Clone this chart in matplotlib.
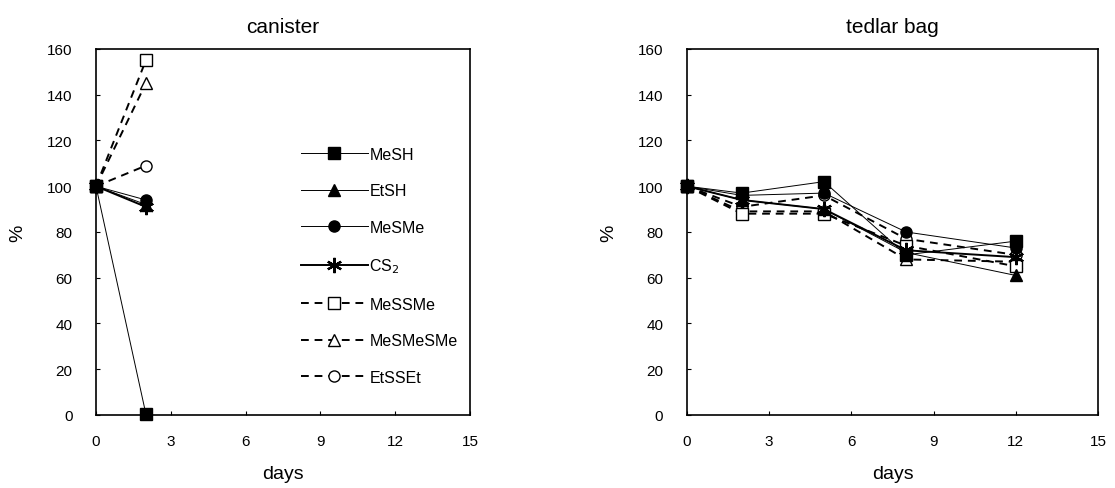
import matplotlib.pyplot as plt

plt.rcParams['font.family'] = ['Liberation Sans', 'DejaVu Sans']

# compounds and styles
names = ['MeSH', 'EtSH', 'MeSMe', 'CS$_2$', 'MeSSMe', 'MeSMeSMe', 'EtSSEt']

# canister: day 0 and day 2
can_days = [0, 2]
can_vals = [
    [100, 0.5],   # MeSH
    [100, 92],    # EtSH
    [100, 94],    # MeSMe
    [100, 91],    # CS2
    [100, 155],   # MeSSMe
    [100, 145],   # MeSMeSMe
    [100, 109],   # EtSSEt
]

# tedlar bag
bag_days = [0, 2, 5, 8, 12]
bag_vals = [
    [100, 97, 102, 70, 76],   # MeSH
    [100, 94, 90, 71, 61],    # EtSH
    [100, 96, 97, 80, 73],    # MeSMe
    [100, 94, 90, 72, 69],    # CS2
    [100, 88, 88, 74, 65],    # MeSSMe
    [100, 89, 89, 68, 67],    # MeSMeSMe
    [100, 91, 96, 77, 70],    # EtSSEt
]

styles = [
    dict(marker='s', mfc='black', ls='-', lw=0.7, ms=8),
    dict(marker='^', mfc='black', ls='-', lw=0.7, ms=8),
    dict(marker='o', mfc='black', ls='-', lw=0.7, ms=8),
    dict(marker=(6, 2, 0), mfc='black', ls='-', lw=1.4, mew=1.6, ms=11),
    dict(marker='s', mfc='white', ls=(0, (4, 3)), lw=1.4, ms=8),
    dict(marker='^', mfc='white', ls=(0, (4, 3)), lw=1.4, ms=8),
    dict(marker='o', mfc='white', ls=(0, (4, 3)), lw=1.4, ms=8),
]

fig = plt.figure(figsize=(11.15, 4.89), dpi=100)
ax1 = fig.add_axes([0.0861, 0.1493, 0.3354, 0.7485])
ax2 = fig.add_axes([0.6161, 0.1493, 0.3686, 0.7485])

for i, (name, vals, st) in enumerate(zip(names, can_vals, styles)):
    ax1.plot(can_days, vals, color='black', mec='black', label=name,
             zorder=10 - i, clip_on=False, **st)

for i, (vals, st) in enumerate(zip(bag_vals, styles)):
    ax2.plot(bag_days, vals, color='black', mec='black',
             zorder=10 - i, clip_on=False, **st)

for ax, title in [(ax1, 'canister'), (ax2, 'tedlar bag')]:
    ax.set_xlim(0, 15)
    ax.set_ylim(0, 160)
    ax.set_xticks([0, 3, 6, 9, 12, 15])
    ax.set_yticks(range(0, 161, 20))
    ax.tick_params(direction='in', length=3, labelsize=11)
    ax.tick_params(axis='x', pad=14)
    ax.tick_params(axis='y', pad=17)
    ax.set_title(title, fontsize=15, pad=12)
    ax.set_xlabel('days', fontsize=14, labelpad=12)
    ax.set_ylabel('%', fontsize=14, labelpad=15)
    for sp in ax.spines.values():
        sp.set_linewidth(1.2)

ax1.legend(loc='upper left', bbox_to_anchor=(0.53, 0.75), frameon=False,
           fontsize=11.5, handlelength=4.2, handletextpad=0.1,
           labelspacing=1.35, borderaxespad=0)

fig.savefig('out.png', dpi=100)
